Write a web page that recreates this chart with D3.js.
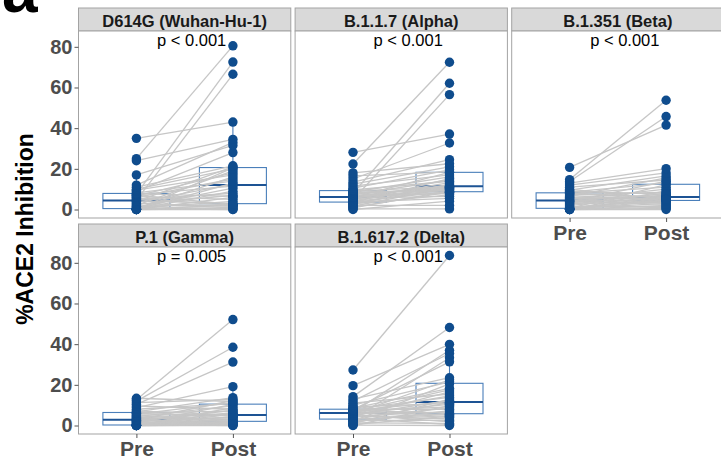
<!DOCTYPE html>
<html>
<head>
<meta charset="utf-8">
<script src="https://cdn.jsdelivr.net/npm/d3@7"></script>
<style>
  html, body { margin: 0; padding: 0; background: #fff; }
  svg { display: block; font-family: "Liberation Sans", Arial, sans-serif; }
</style>
</head>
<body>
<svg id="chart" width="721" height="460"></svg>
<script>
// ---------------- data ----------------
const categories = ["Pre", "Post"];
const panelTitles = ["D614G (Wuhan-Hu-1)", "B.1.1.7 (Alpha)", "B.1.351 (Beta)", "P.1 (Gamma)", "B.1.617.2 (Delta)"];
const pLabels = ["p < 0.001", "p < 0.001", "p < 0.001", "p = 0.005", "p < 0.001"];
const yTicks = [0, 20, 40, 60, 80];

// paired values: same index = same subject
const d614gPre  = [0,0,0,0,0,0,0.1,0.2,0.3,0.3,0.5,0.8,1.2,1.6,2,2.5,3,3.5,4,4.2,4.6,5,5.5,6,6.3,6.7,7,7.3,7.6,7.8,8.2,9,9.5,10,11,12,17,24,25,35];
const d614gPost = [0,2.3,13,0.5,6,20.5,1,9,2,16,0,4,10.5,2.4,19,7,1.5,12.5,21,3,66.5,8,2,15,5,18,2.5,11.5,72.5,6.5,14,28,17,20,21.5,33,31.5,34.5,80.5,43];

const alphaPre  = [0,0.3,0.8,1.2,1.6,2,2.5,2.8,3.2,3.5,3.7,4,4.4,4.8,5.1,5.4,5.6,5.8,6,6.1,6.3,6.6,7,7.3,7.6,8,8.3,8.6,9,9.2,9.6,10.5,11.5,12.5,13.5,15,16.5,18,22.4,28.1];
const alphaPost = [4.1,0.3,9.2,8.5,11,2,12.5,7.2,10.2,15.2,5.5,8.8,11.3,56.5,9.9,13.2,6.5,10.5,18.2,8.2,11.5,12,7.8,14.5,10.8,62.1,9.6,16,11.2,8.6,13.9,19.5,17,21,24.5,32.7,18.5,22.5,72.4,37.1];

const betaPre  = [0,0,0,0,0,0.1,0.2,0.3,0.4,0.5,0.6,1,1.5,2,2.5,3,3.4,3.8,4.1,4.3,4.5,5,5.5,6,6.4,6.8,7.2,7.6,7.9,8.1,8.5,9,9.5,10,11,12,13,13.8,14.7,20.7];
const betaPost = [0.5,5.8,2,9.2,0,4.3,6.6,1,5.2,3,12.2,4.7,1.5,6.1,8,3.5,5.6,13.9,2.5,7,4,10,5.4,6.3,15.5,4.5,8.5,5.9,11,6,13,7.5,16.5,5,14.5,18,20.1,45.7,53.7,41.5];

const gammaPre  = [0,0,0,0,0,0,0,0,0.1,0.1,0.3,0.6,0.9,1.2,1.5,1.8,2.1,2.4,2.6,2.7,2.9,3.2,3.6,4,4.4,4.8,5.2,5.6,6,6.3,6.7,7.2,8,8.8,9.6,10.4,11.2,12,12.7,13.4];
const gammaPost = [1.3,5.6,0,3.3,0.5,8.8,2.1,0.2,4.5,1.8,6.5,0,2.9,10.4,1,4.1,7.5,1.6,5.3,12.3,0.8,3.7,6,1.9,9.6,2.5,5,11.3,4.8,7,13.7,5.1,10.8,19.1,8,31.2,12.8,38.5,52.1,11.8];

const deltaPre  = [0,0.2,0.5,0.9,1.3,1.7,2.1,2.5,2.8,3,3.2,3.6,4,4.4,4.8,5.1,5.4,5.7,5.9,6,6.2,6.4,6.6,6.8,7,7.2,7.4,7.6,7.8,7.95,8.2,8.6,9.2,10,11,12,13,14.2,19.6,27.3];
const deltaPost = [9.8,0,4.6,13,1,7.3,20.5,2.5,11.3,5.5,33.3,0.5,8.6,16.5,3.2,12.3,1.8,22.5,6.6,10.4,4,14.6,37,5.1,17.5,9.2,11.7,5.9,31.3,8,13.8,18.3,10.9,21.5,15.5,35.4,23.5,48.2,39.9,83.6];

const preSeries  = [d614gPre, alphaPre, betaPre, gammaPre, deltaPre];
const postSeries = [d614gPost, alphaPost, betaPost, gammaPost, deltaPost];

// ---------------- layout ----------------
const svg = d3.select("#chart");
const panelW = 212.3, gapX = 4.3, left0 = 78.5;
const stripTops = [8, 224], stripH = 23, plotH = 187;
const grid = [[0,0],[0,1],[0,2],[1,0],[1,1]]; // [row, col]

const ptColor = "#0f4c8d";
const boxColor = "#4a7fba";
const medColor = "#1d5394";
const lineColor = "#c6c6c6";
const borderColor = "#a3a3a3";

function boxStats(vals) {
  const s = vals.slice().sort(d3.ascending);
  const q1 = d3.quantile(s, 0.25), med = d3.quantile(s, 0.5), q3 = d3.quantile(s, 0.75);
  const iqr = q3 - q1;
  const lo = d3.min(s.filter(v => v >= q1 - 1.5 * iqr));
  const hi = d3.max(s.filter(v => v <= q3 + 1.5 * iqr));
  return {q1, med, q3, lo, hi};
}

panelTitles.forEach((title, i) => {
  const [row, col] = grid[i];
  const x0 = left0 + col * (panelW + gapX);
  const sTop = stripTops[row];
  const pTop = sTop + stripH;
  const pBot = pTop + plotH;

  const x = d3.scalePoint().domain(categories).range([x0, x0 + panelW]).padding(0.6);
  const y = d3.scaleLinear().domain([-4.18, 87.78]).range([pBot, pTop]);
  const g = svg.append("g");

  // strip
  g.append("rect").attr("x", x0).attr("y", sTop).attr("width", panelW).attr("height", stripH)
    .attr("fill", "#d9d9d9").attr("stroke", borderColor).attr("stroke-width", 1);
  g.append("text").attr("x", x0 + panelW / 2).attr("y", sTop + stripH / 2 + 1)
    .attr("text-anchor", "middle").attr("dominant-baseline", "central")
    .attr("font-size", "16.5px").attr("font-weight", "bold").attr("fill", "#1a1a1a").text(title);

  // panel background
  g.append("rect").attr("x", x0).attr("y", pTop).attr("width", panelW).attr("height", plotH)
    .attr("fill", "#fff");

  const pre = preSeries[i], post = postSeries[i];
  const bw = 67;
  [pre, post].forEach((vals, k) => {
    const st = boxStats(vals);
    const cx = x(categories[k]);
    g.append("line").attr("x1", cx).attr("x2", cx).attr("y1", y(st.q3)).attr("y2", y(st.hi))
      .attr("stroke", boxColor).attr("stroke-width", 1.1);
    g.append("line").attr("x1", cx).attr("x2", cx).attr("y1", y(st.q1)).attr("y2", y(st.lo))
      .attr("stroke", boxColor).attr("stroke-width", 1.1);
    g.append("rect").attr("x", cx - bw / 2).attr("y", y(st.q3)).attr("width", bw)
      .attr("height", y(st.q1) - y(st.q3)).attr("fill", "#fff").attr("stroke", boxColor).attr("stroke-width", 1.1);
    g.append("line").attr("x1", cx - bw / 2).attr("x2", cx + bw / 2).attr("y1", y(st.med)).attr("y2", y(st.med))
      .attr("stroke", medColor).attr("stroke-width", 2);
  });

  // paired lines
  g.append("g").selectAll("line").data(pre.map((v, j) => [v, post[j]])).join("line")
    .attr("x1", x("Pre")).attr("x2", x("Post"))
    .attr("y1", d => y(d[0])).attr("y2", d => y(d[1]))
    .attr("stroke", lineColor).attr("stroke-width", 1.3);

  // points
  [pre, post].forEach((vals, k) => {
    g.append("g").selectAll("circle").data(vals).join("circle")
      .attr("cx", x(categories[k])).attr("cy", d => y(d)).attr("r", 4.7).attr("fill", ptColor);
  });

  // p label
  g.append("text").attr("x", (x("Pre") + x("Post")) / 2 + 7).attr("y", y(80.5))
    .attr("text-anchor", "middle").attr("font-size", "16.5px").attr("fill", "#000").text(pLabels[i]);

  // panel border
  g.append("rect").attr("x", x0).attr("y", pTop).attr("width", panelW).attr("height", plotH)
    .attr("fill", "none").attr("stroke", borderColor).attr("stroke-width", 1);

  // y axis on first column
  if (col === 0) {
    const ax = g.append("g").attr("transform", `translate(${x0},0)`)
      .call(d3.axisLeft(y).tickValues(yTicks).tickSize(4).tickPadding(2));
    ax.select(".domain").remove();
    ax.selectAll(".tick line").attr("stroke", "#555");
    ax.selectAll(".tick text").attr("font-size", "20px").attr("font-weight", "bold")
      .attr("fill", "#4d4d4d").attr("font-family", "'Liberation Sans', Arial, sans-serif");
  }
  // x axis for bottom panel in each column
  const isBottom = (row === 1) || (col === 2);
  if (isBottom) {
    const ax = g.append("g").attr("transform", `translate(0,${pBot})`)
      .call(d3.axisBottom(x).tickSize(4).tickPadding(3));
    ax.select(".domain").remove();
    ax.selectAll(".tick line").attr("stroke", "#555");
    ax.selectAll(".tick text").attr("font-size", "21px").attr("font-weight", "bold")
      .attr("fill", "#4d4d4d").attr("font-family", "'Liberation Sans', Arial, sans-serif");
  }
});

// y title
svg.append("text").attr("transform", "translate(33,229) rotate(-90)")
  .attr("text-anchor", "middle").attr("font-size", "23px").attr("font-weight", "bold")
  .attr("fill", "#000").text("%ACE2 Inhibition");

// panel tag
svg.append("text").attr("x", 2).attr("y", 12).attr("font-size", "64px").attr("font-weight", "bold")
  .attr("fill", "#000").text("a");
</script>
</body>
</html>
